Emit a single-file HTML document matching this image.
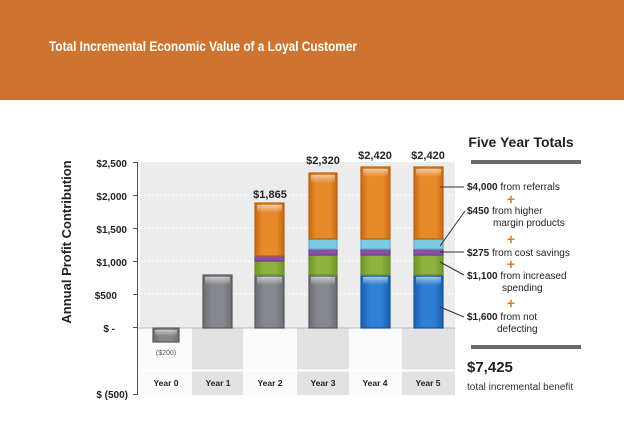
<!DOCTYPE html>
<html><head><meta charset="utf-8"><style>
html,body{margin:0;padding:0;background:#fff;}
svg{display:block;font-family:"Liberation Sans",Arial,sans-serif;}
</style></head><body>
<svg width="624" height="444" viewBox="0 0 624 444" xmlns="http://www.w3.org/2000/svg">
<defs>
<linearGradient id="gO" x1="0" y1="0" x2="1" y2="0"><stop offset="0" stop-color="#c96a14"/><stop offset=".25" stop-color="#e8892a"/><stop offset=".75" stop-color="#e8892a"/><stop offset="1" stop-color="#c96a14"/></linearGradient>
<linearGradient id="gG" x1="0" y1="0" x2="1" y2="0"><stop offset="0" stop-color="#6a6d72"/><stop offset=".3" stop-color="#85888d"/><stop offset=".7" stop-color="#85888d"/><stop offset="1" stop-color="#6a6d72"/></linearGradient>
<linearGradient id="gB" x1="0" y1="0" x2="1" y2="0"><stop offset="0" stop-color="#1a5fb0"/><stop offset=".3" stop-color="#2f7fd6"/><stop offset=".7" stop-color="#2f7fd6"/><stop offset="1" stop-color="#1a5fb0"/></linearGradient>
<linearGradient id="gN" x1="0" y1="0" x2="1" y2="0"><stop offset="0" stop-color="#6f9628"/><stop offset=".3" stop-color="#8db440"/><stop offset=".7" stop-color="#8db440"/><stop offset="1" stop-color="#6f9628"/></linearGradient>
<linearGradient id="gW" x1="0" y1="0" x2="0" y2="1"><stop offset="0" stop-color="#fff" stop-opacity=".55"/><stop offset="1" stop-color="#fff" stop-opacity="0"/></linearGradient>
</defs>
<rect x="0" y="0" width="624" height="100" fill="#cd7430"/>
<text x="49" y="51" fill="#fff" font-size="14" font-weight="bold" textLength="308" lengthAdjust="spacingAndGlyphs">Total Incremental Economic Value of a Loyal Customer</text>

<!-- plot bg -->
<rect x="140" y="162" width="315" height="166" fill="#ececec"/>
<g stroke="#fff" stroke-width="1" stroke-dasharray="2,2">
<line x1="140" y1="195" x2="455" y2="195"/><line x1="140" y1="228" x2="455" y2="228"/><line x1="140" y1="261" x2="455" y2="261"/><line x1="140" y1="294" x2="455" y2="294"/>
</g>
<rect x="140" y="328" width="315" height="67" fill="#fbfbfb"/>
<g fill="#e2e2e2">
<rect x="192" y="328" width="51" height="67"/><rect x="297" y="328" width="52" height="67"/><rect x="402" y="328" width="53" height="67"/>
</g>
<line x1="140" y1="370.5" x2="455" y2="370.5" stroke="#fff" stroke-width="2"/>
<line x1="137" y1="328" x2="455" y2="328" stroke="#bbb" stroke-width="1"/>
<!-- axis -->
<g stroke="#555" stroke-width="1">
<line x1="137.5" y1="162" x2="137.5" y2="395"/>
<line x1="133" y1="162.5" x2="137" y2="162.5"/><line x1="133" y1="195.5" x2="137" y2="195.5"/><line x1="133" y1="228.5" x2="137" y2="228.5"/><line x1="133" y1="261.5" x2="137" y2="261.5"/><line x1="133" y1="294.5" x2="137" y2="294.5"/><line x1="133" y1="327.5" x2="137" y2="327.5"/><line x1="133" y1="394.5" x2="137" y2="394.5"/>
</g>
<g font-size="10" font-weight="bold" fill="#222" text-anchor="end">
<text x="127" y="167">$2,500</text><text x="127" y="200">$2,000</text><text x="127" y="233">$1,500</text><text x="127" y="266">$1,000</text><text x="117" y="299">$500</text><text x="115" y="332">$ -</text><text x="128" y="398">$ (500)</text>
</g>
<text transform="translate(71,242) rotate(-90)" font-size="13" font-weight="bold" fill="#222" text-anchor="middle">Annual Profit Contribution</text>

<!-- bars -->
<g stroke-width="1.2">
<rect x="153" y="328" width="26" height="14" fill="url(#gG)" stroke="#55585c"/>
<rect x="203" y="275" width="29" height="53" fill="url(#gG)" stroke="#55585c"/>
<!-- Y2 -->
<rect x="255" y="275" width="29" height="53" fill="url(#gG)" stroke="#55585c"/>
<rect x="255" y="261" width="29" height="14" fill="url(#gN)" stroke="#6a8a2a"/>
<rect x="255" y="256" width="29" height="5" fill="#8b4fa8" stroke="#6e3a8a"/>
<rect x="255" y="203" width="29" height="53" fill="url(#gO)" stroke="#b8600f"/>
<!-- Y3 -->
<rect x="309" y="275" width="28" height="53" fill="url(#gG)" stroke="#55585c"/>
<rect x="309" y="255" width="28" height="20" fill="url(#gN)" stroke="#6a8a2a"/>
<rect x="309" y="249" width="28" height="6" fill="#8b4fa8" stroke="#6e3a8a"/>
<rect x="309" y="239" width="28" height="10" fill="#7ccbe3" stroke="#5aaecb"/>
<rect x="309" y="173" width="28" height="66" fill="url(#gO)" stroke="#b8600f"/>
<!-- Y4 -->
<rect x="361" y="275" width="29" height="53" fill="url(#gB)" stroke="#175599"/>
<rect x="361" y="255" width="29" height="20" fill="url(#gN)" stroke="#6a8a2a"/>
<rect x="361" y="249" width="29" height="6" fill="#8b4fa8" stroke="#6e3a8a"/>
<rect x="361" y="239" width="29" height="10" fill="#7ccbe3" stroke="#5aaecb"/>
<rect x="361" y="167" width="29" height="72" fill="url(#gO)" stroke="#b8600f"/>
<!-- Y5 -->
<rect x="414" y="275" width="29" height="53" fill="url(#gB)" stroke="#175599"/>
<rect x="414" y="255" width="29" height="20" fill="url(#gN)" stroke="#6a8a2a"/>
<rect x="414" y="249" width="29" height="6" fill="#8b4fa8" stroke="#6e3a8a"/>
<rect x="414" y="239" width="29" height="10" fill="#7ccbe3" stroke="#5aaecb"/>
<rect x="414" y="167" width="29" height="72" fill="url(#gO)" stroke="#b8600f"/>
</g>
<g fill="url(#gW)">
<rect x="155" y="330" width="22" height="6"/><rect x="205" y="277" width="25" height="8"/><rect x="257" y="277" width="25" height="8"/><rect x="311" y="277" width="24" height="8"/><rect x="363" y="277" width="25" height="8"/><rect x="416" y="277" width="25" height="8"/>
<rect x="257" y="205" width="25" height="8"/><rect x="311" y="175" width="24" height="8"/><rect x="363" y="169" width="25" height="8"/><rect x="416" y="169" width="25" height="8"/>
</g>
<g font-size="11" font-weight="bold" fill="#222" text-anchor="middle">
<text x="270" y="198">$1,865</text><text x="323" y="164">$2,320</text><text x="375" y="159">$2,420</text><text x="428" y="159">$2,420</text>
</g>
<text x="166" y="355" font-size="7" fill="#555" text-anchor="middle">($200)</text>
<g font-size="8.5" font-weight="bold" fill="#222" text-anchor="middle">
<text x="166" y="386">Year 0</text><text x="218" y="386">Year 1</text><text x="270" y="386">Year 2</text><text x="323" y="386">Year 3</text><text x="375" y="386">Year 4</text><text x="428" y="386">Year 5</text>
</g>

<!-- leader lines -->
<g stroke="#333" stroke-width="1" fill="none">
<line x1="440" y1="187" x2="464" y2="187"/>
<line x1="440" y1="246" x2="465" y2="211"/>
<line x1="440" y1="252" x2="464" y2="252"/>
<line x1="440" y1="262" x2="464" y2="275"/>
<line x1="440" y1="307" x2="464" y2="317"/>
</g>

<!-- right panel -->
<text x="521" y="147" font-size="14" font-weight="bold" fill="#222" text-anchor="middle">Five Year Totals</text>
<rect x="471" y="160" width="110" height="4" fill="#6b6b6b"/>
<rect x="471" y="345" width="110" height="4" fill="#6b6b6b"/>
<g font-size="10" fill="#222">
<text x="467" y="190"><tspan font-weight="bold">$4,000</tspan> from referrals</text>
<text x="467" y="214"><tspan font-weight="bold">$450</tspan> from higher</text>
<text x="493" y="226">margin products</text>
<text x="467" y="256"><tspan font-weight="bold">$275</tspan> from cost savings</text>
<text x="467" y="279"><tspan font-weight="bold">$1,100</tspan> from increased</text>
<text x="502" y="291">spending</text>
<text x="467" y="320"><tspan font-weight="bold">$1,600</tspan> from not</text>
<text x="497" y="332">defecting</text>
</g>
<g font-size="14" font-weight="bold" fill="#e07a1f" text-anchor="middle">
<text x="511" y="204">+</text><text x="511" y="244">+</text><text x="511" y="269">+</text><text x="511" y="308">+</text>
</g>
<text x="467" y="372" font-size="15" font-weight="bold" fill="#222">$7,425</text>
<text x="467" y="390" font-size="10" fill="#333">total incremental benefit</text>
</svg>
</body></html>
